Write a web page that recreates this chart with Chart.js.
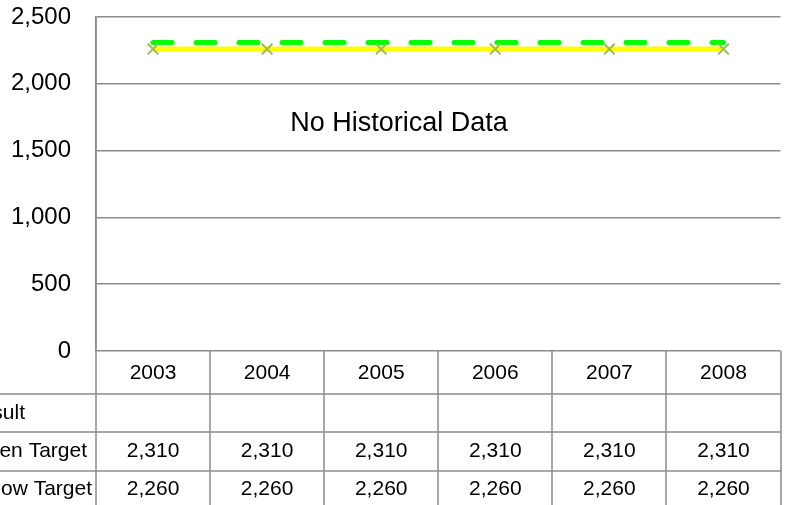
<!DOCTYPE html>
<html lang="en">
<head>
  <meta charset="UTF-8">
  <title>Targets 2003-2008</title>
  <script src="https://cdn.jsdelivr.net/npm/chart.js"></script>
  <style>
    body {
      margin: 0;
      background: #fff;
    }
    .wrap {
      width: 790px;
      height: 505px;
      position: relative;
    }
  </style>
</head>
<body>
  <div class="wrap"><canvas id="chart"></canvas></div>
  <script>
    const years = ['2003', '2004', '2005', '2006', '2007', '2008'];
    const result = [null, null, null, null, null, null];
    const greenTarget = [2310, 2310, 2310, 2310, 2310, 2310];
    const yellowTarget = [2260, 2260, 2260, 2260, 2260, 2260];
    const rowNames = ['Result', 'Green Target', 'Yellow Target'];

    const FONT = "'Liberation Sans', Arial, sans-serif";
    const GRID = '#8c8c8c';
    const fmt = v => v == null ? '' : v.toLocaleString('en-US');

    // note text + data table under the plot
    const tablePlugin = {
      id: 'dataTable',
      afterDraw(chart) {
        const c = chart.ctx;
        const area = chart.chartArea;
        const x = chart.scales.x;
        const y = chart.scales.y;
        const colW = (area.right - area.left) / years.length;
        const top = area.bottom;
        const rows = [394, 432, 471];

        c.save();
        // note in the plot
        c.fillStyle = '#000';
        c.font = '27px ' + FONT;
        c.textAlign = 'center';
        c.textBaseline = 'middle';
        c.fillText('No Historical Data', 399, y.getPixelForValue(1700));

        // grid of the table
        c.strokeStyle = GRID;
        c.lineWidth = 1.5;
        c.beginPath();
        rows.forEach(ry => {
          c.moveTo(0, ry);
          c.lineTo(area.right, ry);
        });
        for (let i = 0; i <= years.length; i++) {
          const vx = Math.round(area.left + i * colW);
          c.moveTo(vx, i === 0 ? area.top : top);
          c.lineTo(vx, 505);
        }
        c.stroke();

        // header and cells
        c.font = '21px ' + FONT;
        c.textAlign = 'center';
        years.forEach((yr, i) => {
          const cx = x.getPixelForValue(i);
          c.fillText(yr, cx, 373);
          c.fillText(fmt(result[i]), cx, 413);
          c.fillText(fmt(greenTarget[i]), cx, 451);
          c.fillText(fmt(yellowTarget[i]), cx, 489);
        });

        // row names (cut off at the left edge)
        c.textAlign = 'right';
        const ends = [25, 87, 92];
        const mids = [413, 451, 489];
        rowNames.forEach((n, i) => c.fillText(n, ends[i], mids[i]));
        c.restore();
      }
    };

    new Chart(document.getElementById('chart'), {
      type: 'line',
      data: {
        labels: years,
        datasets: [
          {
            label: 'Yellow Target',
            data: yellowTarget,
            borderColor: '#ffff00',
            borderWidth: 5,
            pointStyle: 'crossRot',
            pointRadius: 7.5,
            pointBorderColor: '#9bbb59',
            pointBorderWidth: 2,
            pointBackgroundColor: '#9bbb59'
          },
          {
            label: 'Green Target',
            data: greenTarget,
            borderColor: '#00ff00',
            borderWidth: 5,
            borderDash: [19, 24],
            borderCapStyle: 'round',
            pointRadius: 0
          },
          {
            label: 'Result',
            data: result,
            borderColor: '#4f81bd',
            pointRadius: 0
          }
        ]
      },
      options: {
        responsive: true,
        maintainAspectRatio: false,
        animation: false,
        layout: {
          padding: { left: 0, right: 7, top: 17, bottom: 154 }
        },
        plugins: {
          legend: { display: false },
          tooltip: { enabled: false }
        },
        scales: {
          x: {
            display: false,
            offset: true
          },
          y: {
            min: 0,
            max: 2500,
            afterFit(scale) {
              scale.width = 96;
              scale.paddingTop = 0;
              scale.paddingBottom = 0;
            },
            ticks: {
              stepSize: 500,
              padding: 25,
              color: '#000',
              font: { family: FONT, size: 24 },
              callback: v => fmt(v)
            },
            grid: {
              color: GRID,
              lineWidth: 1.5,
              drawTicks: false
            },
            border: { display: true, color: GRID, width: 1.5 }
          }
        }
      },
      plugins: [tablePlugin]
    });
  </script>
</body>
</html>
